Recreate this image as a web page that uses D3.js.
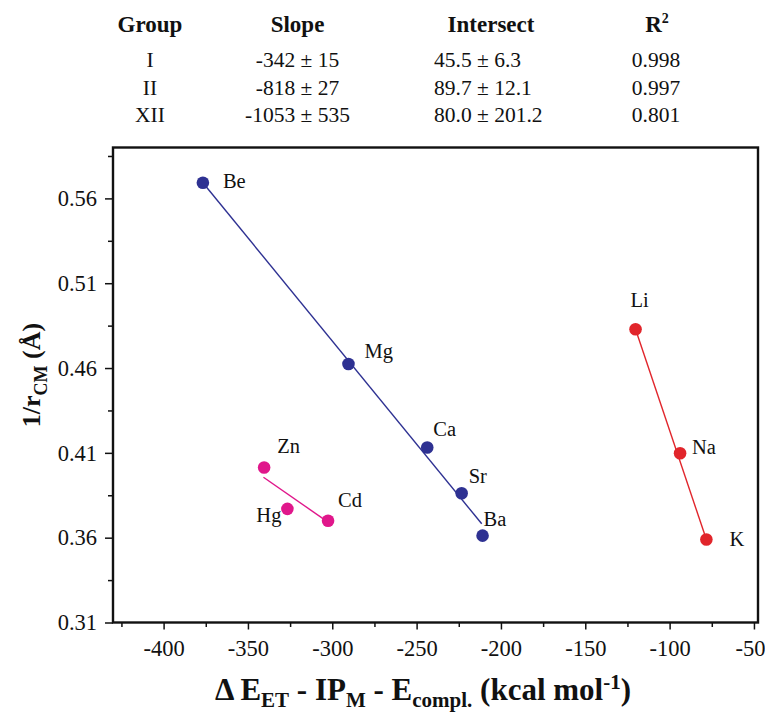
<!DOCTYPE html>
<html>
<head>
<meta charset="utf-8">
<script src="https://cdn.jsdelivr.net/npm/d3@7"></script>
<style>
  body { margin: 0; background: #fff; }
  svg text { font-family: "Liberation Serif", "Times New Roman", serif; fill: #111; }
</style>
</head>
<body>
<svg id="chart" width="765" height="713"></svg>
<script>
// fit table
const tableGroups = ["I", "II", "XII"];
const slopeVal = ["-342", "-818", "-1053"];
const slopeErr = ["15", "27", "535"];
const interVal = ["45.5", "89.7", "80.0"];
const interErr = ["6.3", "12.1", "201.2"];
const rSquared = ["0.998", "0.997", "0.801"];

// points
const elements = ["Be", "Mg", "Ca", "Sr", "Ba", "Zn", "Hg", "Cd", "Li", "Na", "K"];
const groupOf = ["II", "II", "II", "II", "II", "XII", "XII", "XII", "I", "I", "I"];
const xValues = [-376.7, -290.4, -243.7, -223.3, -210.9, -340.4, -326.6, -302.5, -120.2, -93.8, -78.2];
const yValues = [0.5692, 0.4624, 0.4132, 0.3862, 0.3612, 0.4014, 0.3770, 0.3700, 0.4829, 0.4098, 0.3589];

// fitted line segments (data units)
const lineGroups = ["I", "II", "XII"];
const lineX1 = [-120.2, -376.7, -340.8];
const lineY1 = [0.4829, 0.5692, 0.3956];
const lineX2 = [-78.2, -211.4, -305.3];
const lineY2 = [0.3589, 0.3682, 0.3711];

// axis ticks
const xTicks = [-400, -350, -300, -250, -200, -150, -100, -50];
const xMinor = [-425, -375, -325, -275, -225, -175, -125, -75];
const yTicks = [0.31, 0.36, 0.41, 0.46, 0.51, 0.56];
const yMinor = [0.335, 0.385, 0.435, 0.485, 0.535, 0.585];

const colors = {"I": "#e1252b", "II": "#2e3192", "XII": "#e0178b"};

// label placement relative to the dot: dx, dy, anchor
const labelNudge = {
  Be: [20, 5, "start"], Mg: [16, -6, "start"], Ca: [6, -11, "start"],
  Sr: [7, -10, "start"], Ba: [1, -10, "start"], Zn: [13, -14, "start"],
  Hg: [-6, 13, "end"], Cd: [10, -14, "start"], Li: [-5, -22, "start"],
  Na: [12, 1, "start"], K: [23, 6, "start"]
};

const svg = d3.select("#chart");
const plotL = 113, plotR = 758, plotT = 147.5, plotB = 622.5;

const x = d3.scaleLinear().domain([-430, -47.6]).range([plotL, plotR]);
const y = d3.scaleLinear().domain([0.31, 0.59]).range([plotB, plotT]);

// table
const colX = {group: 150, slope: 297.5, inter: 434, r2: 656};
const table = svg.append("g");
const header = table.append("g").style("font-weight", "bold").style("font-size", "23px")
  .attr("text-anchor", "middle");
header.append("text").attr("x", colX.group).attr("y", 32).text("Group");
header.append("text").attr("x", colX.slope).attr("y", 32).text("Slope");
header.append("text").attr("x", 491).attr("y", 32).text("Intersect");
let rh = header.append("text").attr("x", 657).attr("y", 32);
rh.append("tspan").text("R");
rh.append("tspan").attr("dy", -9).style("font-size", "14px").text("2");

const rowY = [66.5, 94.5, 121.5];
tableGroups.forEach(function(g, i) {
  let row = table.append("g").style("font-size", "21.5px");
  row.append("text").attr("x", colX.group).attr("y", rowY[i]).attr("text-anchor", "middle").text(g);
  row.append("text").attr("x", colX.slope).attr("y", rowY[i]).attr("text-anchor", "middle")
    .text(slopeVal[i] + " \u00b1 " + slopeErr[i]);
  row.append("text").attr("x", colX.inter).attr("y", rowY[i]).attr("text-anchor", "start")
    .text(interVal[i] + " \u00b1 " + interErr[i]);
  row.append("text").attr("x", colX.r2).attr("y", rowY[i]).attr("text-anchor", "middle").text(rSquared[i]);
});

// axes, hyphen instead of unicode minus as in the original
const fmtX = function(d) { return String(d); };
const fmtY = d3.format(".2f");

let xAxis = svg.append("g").attr("transform", "translate(0," + plotB + ")")
  .call(d3.axisBottom(x).tickValues(xTicks).tickFormat(fmtX).tickSize(7).tickPadding(11).tickSizeOuter(0));
svg.append("g").attr("transform", "translate(0," + plotB + ")")
  .call(d3.axisBottom(x).tickValues(xMinor).tickFormat("").tickSize(4.5).tickSizeOuter(0));

let yAxis = svg.append("g").attr("transform", "translate(" + plotL + ",0)")
  .call(d3.axisLeft(y).tickValues(yTicks).tickFormat(fmtY).tickSize(8).tickPadding(8).tickSizeOuter(0));
svg.append("g").attr("transform", "translate(" + plotL + ",0)")
  .call(d3.axisLeft(y).tickValues(yMinor).tickFormat("").tickSize(5).tickSizeOuter(0));

svg.selectAll(".tick line").attr("stroke", "#111").attr("stroke-width", 1.5);
svg.selectAll(".domain").remove();
svg.selectAll("g").attr("font-family", null);
svg.selectAll(".tick text").style("font-size", "22.5px").attr("fill", "#111");
// last label sits on the page edge, pull it in a little
xAxis.selectAll(".tick text").filter(function(d) { return d === -50; }).attr("dx", -4);

// frame
svg.append("rect").attr("x", plotL).attr("y", plotT)
  .attr("width", plotR - plotL).attr("height", plotB - plotT)
  .attr("fill", "none").attr("stroke", "#111").attr("stroke-width", 2.4);

// fit lines
svg.append("g").selectAll("line").data(lineGroups).enter().append("line")
  .attr("x1", function(d, i) { return x(lineX1[i]); })
  .attr("y1", function(d, i) { return y(lineY1[i]); })
  .attr("x2", function(d, i) { return x(lineX2[i]); })
  .attr("y2", function(d, i) { return y(lineY2[i]); })
  .attr("stroke", function(d) { return colors[d]; })
  .attr("stroke-width", 1.4);

// dots
svg.append("g").selectAll("circle").data(elements).enter().append("circle")
  .attr("cx", function(d, i) { return x(xValues[i]); })
  .attr("cy", function(d, i) { return y(yValues[i]); })
  .attr("r", 6.3)
  .attr("fill", function(d, i) { return colors[groupOf[i]]; });

// element labels
svg.append("g").selectAll("text").data(elements).enter().append("text")
  .attr("x", function(d, i) { return x(xValues[i]) + labelNudge[d][0]; })
  .attr("y", function(d, i) { return y(yValues[i]) + labelNudge[d][1]; })
  .attr("text-anchor", function(d) { return labelNudge[d][2]; })
  .style("font-size", "20.5px")
  .text(function(d) { return d; });

// axis titles
let xt = svg.append("text").attr("x", 423).attr("y", 700).attr("text-anchor", "middle")
  .style("font-weight", "bold").style("font-size", "31px");
xt.append("tspan").text("\u0394 E");
xt.append("tspan").attr("dy", 7).style("font-size", "21px").text("ET");
xt.append("tspan").attr("dy", -7).text(" - IP");
xt.append("tspan").attr("dy", 7).style("font-size", "21px").text("M");
xt.append("tspan").attr("dy", -7).text(" - E");
xt.append("tspan").attr("dy", 7).style("font-size", "21px").text("compl.");
xt.append("tspan").attr("dy", -7).text(" (kcal mol");
xt.append("tspan").attr("dy", -11).style("font-size", "21px").text("-1");
xt.append("tspan").attr("dy", 11).text(")");

let yt = svg.append("text").attr("transform", "translate(40,375) rotate(-90)")
  .attr("text-anchor", "middle").style("font-weight", "bold").style("font-size", "26px");
yt.append("tspan").text("1/r");
yt.append("tspan").attr("dy", 7).style("font-size", "18px").text("CM");
yt.append("tspan").attr("dy", -7).text(" (\u00c5)");
</script>
</body>
</html>
